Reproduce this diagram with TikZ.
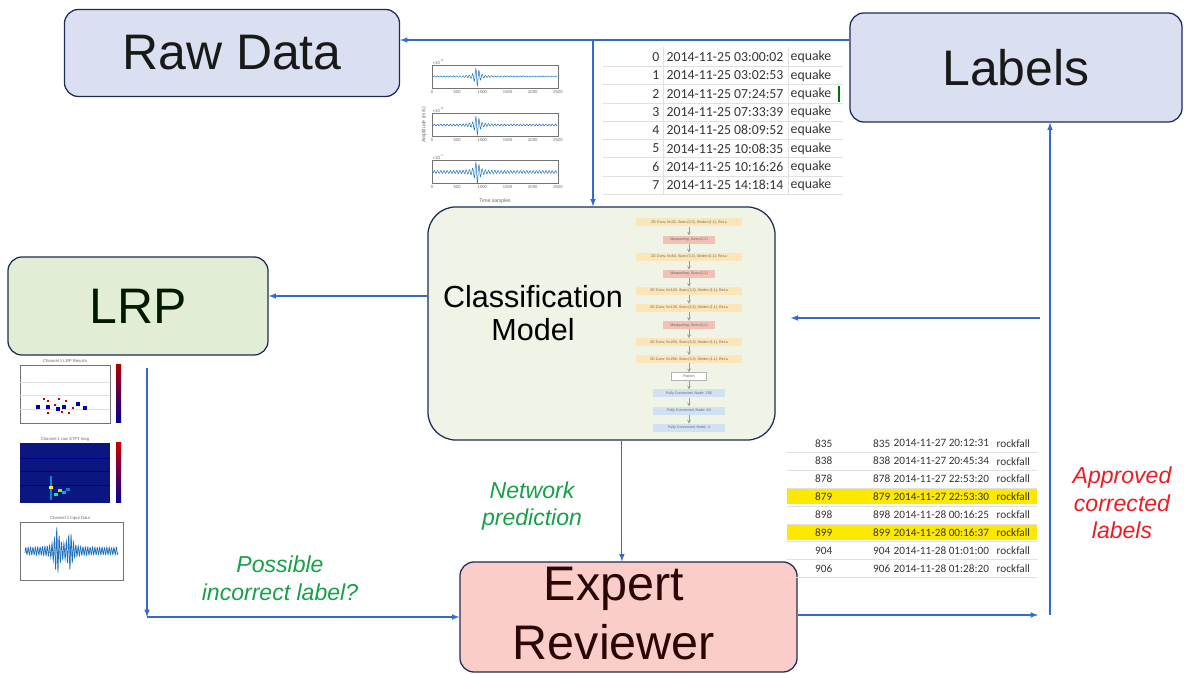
\documentclass[tikz,border=0pt]{standalone}
\usepackage{fontspec}
\setmainfont{Liberation Sans}
\newfontfamily\tabfont{Carlito}
\usetikzlibrary{arrows,positioning}

\definecolor{boxline}{RGB}{30,42,88}
\definecolor{bluefill}{RGB}{218,224,241}
\definecolor{modelfill}{RGB}{240,244,230}
\definecolor{lrpfill}{RGB}{226,237,214}
\definecolor{expertfill}{RGB}{250,205,200}
\definecolor{experttext}{RGB}{42,6,6}
\definecolor{flowblue}{RGB}{52,106,204}
\definecolor{notegreen}{RGB}{22,160,72}
\definecolor{notered}{RGB}{236,28,36}
\definecolor{hilite}{RGB}{255,232,0}
\definecolor{convfill}{RGB}{252,230,184}
\definecolor{poolfill}{RGB}{243,192,182}
\definecolor{fcfill}{RGB}{208,225,241}
\definecolor{sigblue}{RGB}{30,112,190}
\definecolor{specblue}{RGB}{12,22,128}

\tikzset{
  stage/.style={draw=boxline, line width=0.9pt, rounded corners=0.35cm},
  bigtext/.style={font=\fontsize{35.5}{46}\selectfont},
  flow/.style={draw=flowblue, line width=0.8pt, -latex},
  note/.style={font=\fontsize{16.4}{19.6}\selectfont\itshape, align=center},
  tabcell/.style={inner sep=1pt, text=black!80},
  gridline/.style={draw=black!12, line width=0.4pt},
  layer/.style={line width=0.2pt, minimum height=0.2cm, inner sep=0pt,
    font=\fontsize{2.6}{3}\selectfont, text=black!60},
  layconv/.style={fill=convfill, minimum width=2.625cm},
  laypool/.style={fill=poolfill, minimum width=1.3cm},
  layflat/.style={fill=white, draw=black!30, minimum width=0.875cm},
  layfc/.style={fill=fcfill, minimum width=1.8cm},
  layerarrow/.style={draw=black!40, line width=0.2pt, -stealth},
  axisline/.style={draw=black!55, line width=0.3pt},
  wave/.style={draw=sigblue, line width=0.35pt},
  ticklab/.style={font=\fontsize{3}{3.5}\selectfont, text=black!60, inner sep=0.3pt},
}

\begin{document}
\begin{tikzpicture}[x=0.025cm, y=-0.025cm]
\useasboundingbox (0,0) rectangle (1184,674);

% main stages
\node[stage, fill=bluefill, bigtext, text=black!90, minimum width=8.375cm, minimum height=2.175cm]
  (raw) at (232,53) {Raw Data};
\node[stage, fill=bluefill, bigtext, text=black!90, minimum width=8.3cm, minimum height=2.725cm]
  (labels) at (1016,67.5) {Labels};
\node[stage, fill=lrpfill, bigtext, text=black!90!green, minimum width=6.5cm, minimum height=2.45cm]
  (lrp) at (138,306) {LRP};
\node[stage, fill=modelfill, rounded corners=0.7cm, minimum width=8.675cm, minimum height=5.825cm]
  (model) at (601.5,323.5) {};
\node[font=\fontsize{21.7}{23.5}\selectfont, align=center] (modeltxt) at (533,313) {Classification\\Model};
\node[stage, fill=expertfill, minimum width=8.425cm, minimum height=2.75cm]
  (expert) at (628.5,617) {};
\node[font=\fontsize{34.5}{42}\selectfont, text=experttext, align=center] (experttxt) at (614,614) {Expert\\Reviewer};

% network layers inside the model
\foreach \i/\s/\t in {
  0/layconv/{2D Conv, N=32, Size=(3,3), Stride=(1,1), ReLu},
  1/laypool/{Maxpooling, Size=(2,2)},
  2/layconv/{2D Conv, N=64, Size=(3,3), Stride=(1,1), ReLu},
  3/laypool/{Maxpooling, Size=(2,2)},
  4/layconv/{2D Conv, N=128, Size=(3,3), Stride=(1,1), ReLu},
  5/layconv/{2D Conv, N=128, Size=(3,3), Stride=(1,1), ReLu},
  6/laypool/{Maxpooling, Size=(2,2)},
  7/layconv/{2D Conv, N=256, Size=(3,3), Stride=(1,1), ReLu},
  8/layconv/{2D Conv, N=256, Size=(3,3), Stride=(1,1), ReLu},
  9/layflat/{Flatten},
  10/layfc/{Fully Connected, Node: 256},
  11/layfc/{Fully Connected, Node: 64},
  12/layfc/{Fully Connected, Node: 4}}{
  \node[layer, \s] (cnn-\i) at (689,222.5+17.1*\i) {\t};
}
\foreach \i [count=\j] in {0,...,11}
  \draw[layerarrow] (cnn-\i.south) -- (cnn-\j.north);

% seismograms
\foreach \p/\yc/\nz/\amp/\ex in {1/76.5/0.5/9/6, 2/125/0.9/9/6, 3/172/1.4/10/7}{
  \draw[axisline] (432,\yc-11.5) rectangle (558,\yc+11.5);
  \draw[wave] plot[domain=433:557, samples=400]
    (\x, {\yc + (\nz + \amp/(1+((\x-477)/2.5)^2))*sin((\x-432)*113)});
  \node[ticklab, anchor=south west] (ex-\p) at (432,\yc-11.5) {×10\textsuperscript{−\ex}};
  \foreach \k/\lab in {0/0,1/500,2/1000,3/1500,4/2000,5/2500}
    \node[ticklab] (tk-\p-\k) at (432+25.2*\k,\yc+15.5) {\lab};
}
\node[ticklab, font=\fontsize{3.6}{4}\selectfont] (tsamp) at (495,201) {Time samples};
\node[ticklab, font=\fontsize{3.6}{4}\selectfont, rotate=90] (ampl) at (424,125) {Amplitude (m/s)};

% event catalogue
\begin{scope}[font=\tabfont\fontsize{9.8}{10}\selectfont]
\foreach \i in {0,...,7}
  \draw[gridline] (603,66.4+18.25*\i) -- (843,66.4+18.25*\i);
\draw[gridline] (663,47) -- (663,194);
\draw[gridline] (788,47) -- (788,194);
\foreach \i/\t in {0/03:00:02,1/03:02:53,2/07:24:57,3/07:33:39,4/08:09:52,5/10:08:35,6/10:16:26,7/14:18:14}{
  \node[tabcell, anchor=east] (eqid-\i) at (661,57.3+18.25*\i) {\i};
  \node[tabcell, anchor=west] (eqtime-\i) at (665,57.3+18.25*\i) {2014-11-25 \t};
  \node[tabcell, anchor=west] (eqcls-\i) at (789,57.3+18.25*\i) {equake};
}
\end{scope}
\draw[green!45!black, line width=0.8pt] (839,86) -- (839,102);

% reviewed rockfall events
\fill[hilite] (787,489.5) rectangle (1037,504.5);
\fill[hilite] (787,525.5) rectangle (1037,540.5);
\begin{scope}[font=\tabfont\fontsize{8}{9}\selectfont]
\foreach \i in {0,...,7}
  \draw[gridline] (787,452.2+17.9*\i) -- (1037,452.2+17.9*\i);
\foreach \i/\n/\d/\t in {0/835/27/20:12:31,1/838/27/20:45:34,2/878/27/22:53:20,3/879/27/22:53:30,
  4/898/28/00:16:25,5/899/28/00:16:37,6/904/28/01:01:00,7/906/28/01:28:20}{
  \node[tabcell, anchor=east] (rfid-\i) at (834,443.3+17.9*\i) {\n};
  \node[tabcell, anchor=east] (rfno-\i) at (892,443.3+17.9*\i) {\n};
  \node[tabcell, anchor=west] (rftime-\i) at (892,443.3+17.9*\i) {2014-11-\d\ \t};
  \node[tabcell, anchor=west] (rfcls-\i) at (995,443.3+17.9*\i) {rockfall};
}
\end{scope}

% relevance map
\node[ticklab] (maptitle) at (65,361) {Channel 1 LRP Results};
\draw[axisline] (20,365) rectangle (110,423);
\foreach \yy in {382,395,409} \draw[black!12, line width=0.3pt] (20,\yy) -- (110,\yy);
\foreach \xx/\yy in {48/401,48/413,59/399,66/401,69/413,55/405,44/399,73/408,62/412}
  \fill[red!75!black] (\xx-1.4,\yy-1.4) rectangle ++(2.8,2.8);
\foreach \xx/\yy in {48/407,64/407,38/407,78/404,58/409,85/408}
  \fill[blue!70!black] (\xx-1.6,\yy-1.6) rectangle ++(3.2,3.2);
\shade[top color=red!70!black, middle color=white, bottom color=blue!60!black] (116,365) rectangle (121,423);

% spectrogram
\node[ticklab] (spectitle) at (65,439) {Channel 1 raw STFT mag};
\fill[specblue] (20,443) rectangle (110,503);
\foreach \yy in {458,471,485} \draw[blue!55!black, line width=0.3pt] (20,\yy) -- (110,\yy);
\fill[cyan!70!blue] (50,476) rectangle (52,500);
\foreach \xx/\yy/\c in {51/488/yellow, 60/491/yellow!70!green, 64/493/cyan, 56/495/green!60!cyan, 68/490/cyan!60!blue}
  \fill[\c] (\xx-2,\yy-1.5) rectangle ++(4,3);
\shade[top color=red!80!black, middle color=yellow!80!green, bottom color=blue!60!black] (116,443) rectangle (121,503);

% input trace
\node[ticklab] (tracetitle) at (70,518) {Channel 1 Input Data};
\draw[axisline] (20,522) rectangle (123,580);
\draw[wave, line width=0.5pt] plot[domain=25:118, samples=300]
  (\x, {551 + (3.5 + 20/(1+((\x-57)/2.5)^2) + 15/(1+((\x-70)/2.5)^2))*sin((\x-24)*151)});

% connectors
\coordinate (top) at (593,40);
\coordinate (mlrp) at (428,296);
\coordinate (lrpdrop) at (147,368);
\coordinate (bend) at (147,617);
\coordinate (rbend) at (1050,615);
\coordinate (rfeed) at (1040,318);
\draw[flow] (labels.west |- top) -- (raw.east |- top);
\draw[flow] (top) -- (model.north -| top);
\draw[flow] (mlrp) -- (lrp.east |- mlrp);
\draw[flow] (lrpdrop) -- (bend);
\draw[flow] (bend) -- (expert.west);
\draw[flow] ([xshift=0.51cm]model.south) -- ([xshift=0.51cm]model.south |- expert.north);
\draw[flow] (expert.east |- rbend) -- ([xshift=-0.3cm]rbend);
\draw[flow] (rbend) -- (labels.south -| rbend);
\draw[flow] (rfeed) -- ([xshift=0.375cm]model.east |- rfeed);

% notes on the arrows
\node[note, text=notegreen] (possible) at (280,578) {Possible\\incorrect label?};
\node[note, text=notegreen] (prediction) at (532,506) {Network\\prediction};
\node[note, text=notered] (approved) at (1122,503) {Approved\\corrected\\labels};
\end{tikzpicture}
\end{document}
